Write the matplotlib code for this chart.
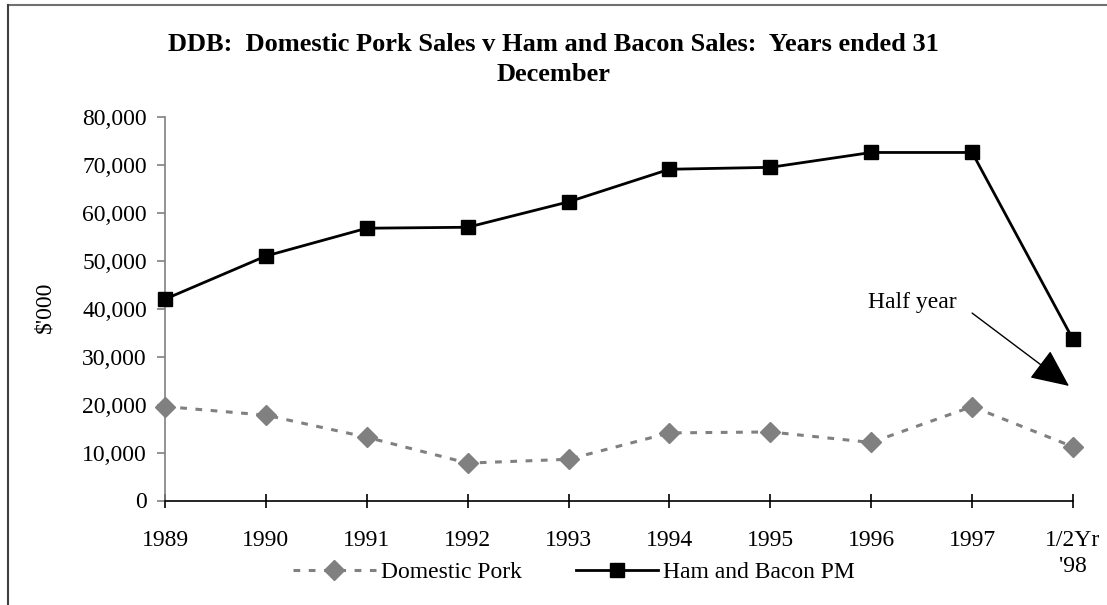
import matplotlib
matplotlib.use("Agg")
import matplotlib.pyplot as plt
from matplotlib.lines import Line2D
from matplotlib.ticker import FuncFormatter

# ---- data ----
categories = ["1989", "1990", "1991", "1992", "1993", "1994", "1995", "1996", "1997", "1/2Yr\n'98"]
domestic_pork = [19600, 17800, 13200, 7800, 8600, 14100, 14300, 12100, 19600, 11200]
ham_bacon = [42000, 51000, 56800, 57000, 62300, 69100, 69500, 72600, 72600, 33600]
y_ticks = [0, 10000, 20000, 30000, 40000, 50000, 60000, 70000, 80000]

title = "DDB:  Domestic Pork Sales v Ham and Bacon Sales:  Years ended 31\nDecember"

plt.rcParams["font.family"] = ["Liberation Serif", "DejaVu Serif"]

W, H = 1107, 605
fig = plt.figure(figsize=(W / 100, H / 100), dpi=100)
ax = fig.add_axes([165 / W, 1 - 500.5 / H, (1073 - 165) / W, (500.5 - 117) / H])

x = list(range(len(categories)))
grey = "#808080"

ax.plot(x, domestic_pork, color=grey, linestyle=(0, (2.2, 2.8)), linewidth=2.2,
        marker="D", markersize=10, markerfacecolor=grey, markeredgecolor=grey,
        label="Domestic Pork", clip_on=False, zorder=3)
ax.plot(x, ham_bacon, color="black", linestyle="-", linewidth=2.0,
        marker="s", markersize=10.5, markerfacecolor="black", markeredgecolor="black",
        label="Ham and Bacon PM", clip_on=False, zorder=4)

ax.set_xlim(0, len(categories) - 1)
ax.set_ylim(0, 80000)
ax.set_xticks(x)
ax.set_xticklabels(categories, fontsize=17, linespacing=1.35)
ax.set_yticks(y_ticks)
ax.yaxis.set_major_formatter(FuncFormatter(lambda v, p: f"{int(v):,}"))
for lab in ax.get_yticklabels():
    lab.set_fontsize(17)

ax.spines["top"].set_visible(False)
ax.spines["right"].set_visible(False)
ax.spines["left"].set_color(grey)
ax.spines["left"].set_linewidth(1.2)
ax.spines["bottom"].set_color("black")
ax.spines["bottom"].set_linewidth(1.2)
ax.tick_params(axis="y", direction="out", length=6, width=1.2, color=grey, pad=7, labelsize=17)
ax.tick_params(axis="x", direction="inout", length=10, width=1.2, color="black", pad=16, labelsize=17)

ax.set_ylabel("$'000", fontsize=17)
ax.yaxis.set_label_coords((55 - 165) / (1073 - 165), (500.5 - 307) / (500.5 - 117))

# annotation
ax.text(7.41, 41200, "Half year", fontsize=17, ha="center", va="center")
ax.annotate("", xy=(8.96, 23900), xytext=(8.0, 39100),
            arrowprops=dict(arrowstyle="-|>,head_length=1.2,head_width=0.55",
                            color="black", lw=1.0, shrinkA=0, shrinkB=0,
                            mutation_scale=20),
            annotation_clip=False)

# title
fig.text(0.5, 1 - 59.5 / H, title, ha="center", va="center", fontsize=19,
         fontweight="bold", linespacing=1.4, multialignment="center")

# legend
leg = fig.legend(loc="center", bbox_to_anchor=(574 / W, 1 - 572 / H), ncol=2,
                 frameon=False, fontsize=17, handlelength=3.5, handletextpad=0.2,
                 columnspacing=2.3, borderpad=0, borderaxespad=0)

# partial outer chart border (top and left)
fig.add_artist(Line2D([8 / W, 1.0], [1 - 4.5 / H, 1 - 4.5 / H], transform=fig.transFigure,
                      color="#707070", linewidth=1.5))
fig.add_artist(Line2D([8 / W, 8 / W], [0.0, 1 - 4.5 / H], transform=fig.transFigure,
                      color="#404040", linewidth=1.5))

fig.savefig("out.png", dpi=100)
